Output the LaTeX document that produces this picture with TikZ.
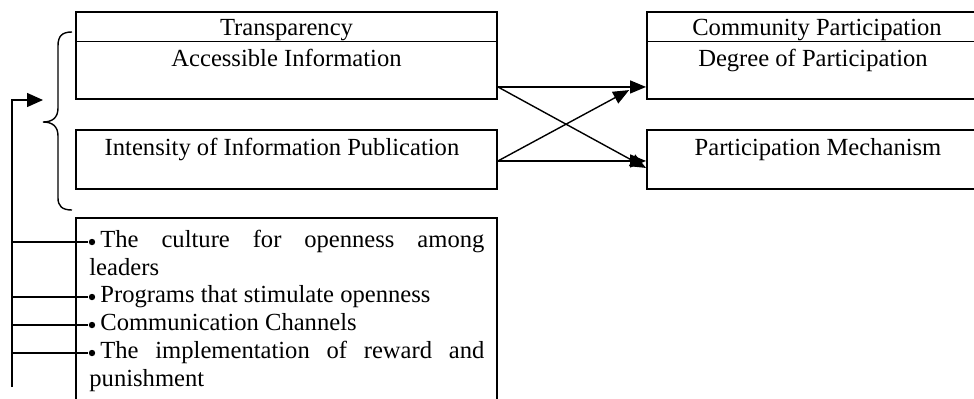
\documentclass[tikz,border=0pt]{standalone}
\usepackage{fontspec}
\setmainfont{Liberation Serif}
\usetikzlibrary{arrows.meta,fit,calc}
\begin{document}
\begin{tikzpicture}[x=0.5pt,y=-0.5pt, font=\fontsize{12.3}{14}\selectfont,
  box/.style={draw, line width=0.95pt, inner sep=0pt},
  divider/.style={line width=0.55pt},
  conn/.style={line width=0.7pt},
  arr/.style={conn, -{Triangle[length=8pt,width=6.5pt]}},
  dot/.style={circle, fill, inner sep=0pt, minimum size=3.2pt},
  lbl/.style={anchor=base, inner sep=0pt},
  item/.style={anchor=base west, inner sep=0pt, text width=197.5pt, align=justify}]
\clip (0,0) rectangle (974,398);
% boxes
\node[box, fit={(76,12) (497,99)}] (acc) {};
\node[box, fit={(76,130) (497,189)}] (int) {};
\node[box, fit={(647,12) (985,99)}] (dp) {};
\node[box, fit={(647,130) (985,189)}] (pm) {};
\node[box, fit={(76,218) (497,420)}] (lst) {};
\draw[divider] ([yshift=-15pt]acc.north west) -- ([yshift=-15pt]acc.north east);
\draw[divider] ([yshift=-15pt]dp.north west) -- ([yshift=-15pt]dp.north east);
% labels
\node[lbl] (tr) at (286.5,35) {Transparency};
\node[lbl] (ai) at (286.5,66) {Accessible Information};
\node[lbl] (ii) at (282,155) {Intensity of Information Publication};
\node[lbl] (cp) at (817,35) {Community Participation};
\node[lbl] (dg) at (813,66) {Degree of Participation};
\node[lbl] (pmt) at (818,155) {Participation Mechanism};
% list
\node[item] (t1) at (89,247) {\hspace*{5.5pt}The culture for openness among\linebreak leaders};
\node[item] (t2) at (89,302) {\hspace*{5.5pt}Programs that stimulate openness};
\node[item] (t3) at (89,330) {\hspace*{5.5pt}Communication Channels};
\node[item] (t4) at (89,358) {\hspace*{5.5pt}The implementation of reward and\linebreak punishment};
\node[dot] (b1) at (92,242) {};
\node[dot] (b2) at (92,297) {};
\node[dot] (b3) at (92,325) {};
\node[dot] (b4) at (92,353) {};
% brace
\draw[conn] (72,32) .. controls (62,32) and (58,36) .. (58,46) -- (58,108)
  .. controls (58,118) and (52,122) .. (43,122)
  .. controls (52,122) and (58,126) .. (58,136) -- (58,198)
  .. controls (58,206) and (62,210) .. (72,210);
% feedback
\coordinate (fb0) at (12,387);
\coordinate (fbt) at (12,100);
\coordinate (fbh) at (43,100);
\draw[conn, -{Triangle[length=8pt,width=7pt]}] (fb0) -- (fbt) -- (fbh);
\coordinate (c1) at (12,242);
\coordinate (c2) at (12,297);
\coordinate (c3) at (12,325);
\coordinate (c4) at (12,353);
\draw[conn] (c1) -- (b1);
\draw[conn] (c2) -- (b2);
\draw[conn] (c3) -- (b3);
\draw[conn] (c4) -- (b4);
% cross arrows
\draw[arr] ([yshift=6.5pt]acc.south east) -- ([yshift=6.5pt]dp.south west);
\draw[arr] ([yshift=6.5pt]acc.south east) -- ([yshift=11pt]pm.south west);
\draw[arr] ([yshift=14.5pt]int.south east) -- ([yshift=14.5pt]pm.south west);
\draw[arr, shorten >=9.6pt] ([yshift=14.5pt]int.south east) -- ([yshift=9.5pt]dp.south west);
\end{tikzpicture}
\end{document}
